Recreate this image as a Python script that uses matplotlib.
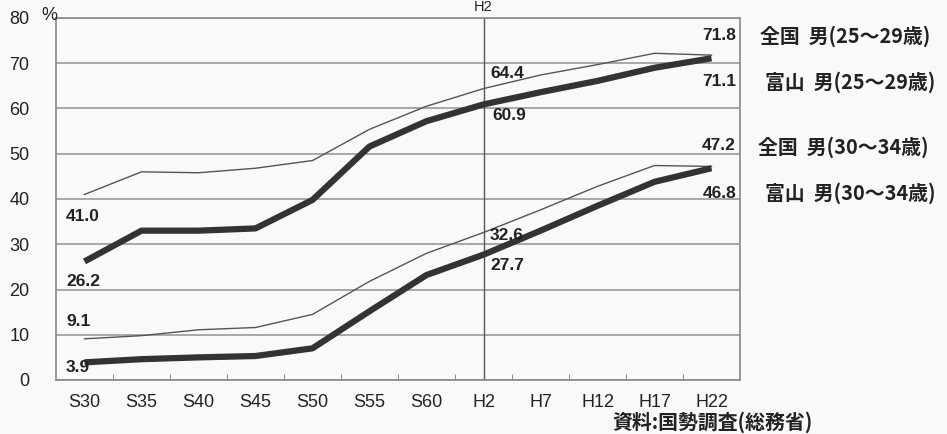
import matplotlib
matplotlib.use("Agg")
import matplotlib.pyplot as plt

plt.rcParams['font.family'] = ['Liberation Sans', 'Noto Sans CJK JP', 'DejaVu Sans']

categories = ["S30", "S35", "S40", "S45", "S50", "S55", "S60", "H2", "H7", "H12", "H17", "H22"]
zenkoku_25_29 = [41.0, 46.0, 45.8, 46.8, 48.5, 55.4, 60.5, 64.4, 67.4, 69.7, 72.2, 71.8]
toyama_25_29 = [26.2, 33.0, 33.0, 33.5, 39.8, 51.6, 57.2, 60.9, 63.6, 66.1, 69.0, 71.1]
zenkoku_30_34 = [9.1, 9.8, 11.1, 11.6, 14.5, 21.8, 28.0, 32.6, 37.6, 42.8, 47.4, 47.2]
toyama_30_34 = [3.9, 4.6, 5.0, 5.3, 7.0, 15.2, 23.2, 27.7, 33.0, 38.5, 43.8, 46.8]
series_names = ["全国  男(25～29歳)", "富山  男(25～29歳)", "全国  男(30～34歳)", "富山  男(30～34歳)"]
yticks = [0, 10, 20, 30, 40, 50, 60, 70, 80]

fig = plt.figure(figsize=(9.47, 4.34), dpi=100)
fig.patch.set_facecolor("#f9f9f9")
ax = fig.add_axes([56/947, 1-380/434, (740-56)/947, (380-18)/434])
ax.set_facecolor("#f9f9f9")

x = list(range(len(categories)))
thin = dict(color="#555555", lw=1.0)
thick = dict(color="#333333", lw=4.5, solid_capstyle="butt")
ax.plot(x, zenkoku_25_29, **thin, zorder=3)
ax.plot(x, toyama_25_29, **thick, zorder=4)
ax.plot(x, zenkoku_30_34, **thin, zorder=3)
ax.plot(x, toyama_30_34, **thick, zorder=4)

ax.set_xlim(-0.5, len(categories)-0.5)
ax.set_ylim(0, 80)
ax.set_yticks(yticks)
ax.set_yticklabels([str(v) for v in yticks], fontsize=13, color="#222222")
ax.yaxis.grid(True, color="#999999", lw=1.2)
ax.set_axisbelow(True)
ax.tick_params(axis="y", length=0, pad=19)
ax.set_xticks(x)
ax.set_xticklabels(categories, fontsize=13, color="#222222")
ax.tick_params(axis="x", length=0, pad=10)
ax.set_xticks([i + 0.5 for i in range(len(categories)-1)], minor=True)
ax.tick_params(axis="x", which="minor", length=4, direction="in", color="#777777")
for s in ax.spines.values():
    s.set_color("#888888")
    s.set_linewidth(1.2)
ax.axvline(categories.index("H2"), color="#555555", lw=1.0, zorder=2)

fig.text(49/947, 1-16/434, "%", fontsize=13, ha="center", va="center", color="#222222")
fig.text(483/947, 1-7/434, "H2", fontsize=10.5, ha="center", va="center", color="#222222")

lab = dict(fontsize=12.5, fontweight="bold", color="#222222", va="center")
i2 = categories.index("H2")
# left values
fig.text(66/947, 1-216/434, f"{zenkoku_25_29[0]:.1f}", ha="left", **lab)
fig.text(66/947, 1-282/434, f"{toyama_25_29[0]:.1f}", ha="left", **lab)
fig.text(66/947, 1-322/434, f"{zenkoku_30_34[0]:.1f}", ha="left", **lab)
fig.text(66/947, 1-367/434, f"{toyama_30_34[0]:.1f}", ha="left", **lab)
# H2 values
fig.text(490/947, 1-74/434, f"{zenkoku_25_29[i2]:.1f}", ha="left", **lab)
fig.text(492/947, 1-115/434, f"{toyama_25_29[i2]:.1f}", ha="left", **lab)
fig.text(490/947, 1-236/434, f"{zenkoku_30_34[i2]:.1f}", ha="left", **lab)
fig.text(490/947, 1-266/434, f"{toyama_30_34[i2]:.1f}", ha="left", **lab)
# right values
fig.text(736/947, 1-36/434, f"{zenkoku_25_29[-1]:.1f}", ha="right", **lab)
fig.text(736/947, 1-82/434, f"{toyama_25_29[-1]:.1f}", ha="right", **lab)
fig.text(736/947, 1-146/434, f"{zenkoku_30_34[-1]:.1f}", ha="right", **lab)
fig.text(736/947, 1-193/434, f"{toyama_30_34[-1]:.1f}", ha="right", **lab)

name_y = [36, 82, 147, 193]
name_x = [760, 765, 758, 765]
for nm, yy, xx in zip(series_names, name_y, name_x):
    fig.text(xx/947, 1-yy/434, nm, ha="left", va="center", fontsize=14.3,
             fontweight="bold", color="#222222", family=['Noto Sans CJK JP', 'DejaVu Sans'])

fig.text(612/947, 1-422/434, "資料:国勢調査(総務省)", ha="left", va="center", fontsize=14.3,
         fontweight="bold", color="#222222", family=['Noto Sans CJK JP', 'DejaVu Sans'])

fig.savefig("out.png", dpi=100, facecolor=fig.get_facecolor())
